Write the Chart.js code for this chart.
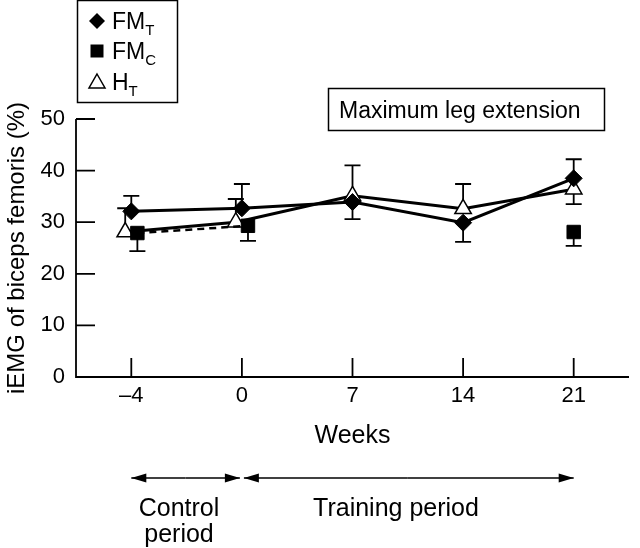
<!DOCTYPE html>
<html>
<head>
<meta charset="utf-8">
<script src="https://cdn.jsdelivr.net/npm/chart.js@4.4.1/dist/chart.umd.min.js"></script>
<style>
  html, body { margin: 0; padding: 0; background: #fff; }
  #wrap { width: 640px; height: 548px; }
</style>
</head>
<body>
<div id="wrap"><canvas id="chart" width="640" height="548"></canvas></div>
<script>
// Weeks (categories, equally spaced on the axis)
const weeks = ['\u20134', '0', '7', '14', '21'];
const yTicks = [0, 10, 20, 30, 40, 50];

// Means (%) and the value where each error bar ends
const fmtMean = [32.1, 32.7, 33.9, 29.9, 38.5];
const fmtBar  = [35.1, 37.4, 30.6, 26.2, 42.2];
const fmcMean = [27.9, 29.3, null, null, 28.1];
const fmcBar  = [24.4, 26.4, null, null, 25.4];
const htMean  = [28.1, 30.0, 35.1, 32.6, 36.4];
const htBar   = [32.7, 34.5, 41.0, 37.4, 33.5];

const FONT = "'Liberation Sans', Arial, Helvetica, sans-serif";

/**
 * Build {x, y} points; nudge a point sideways when it would sit on top of
 * the other series' marker at the same week.
 */
function dodge(series, other, dir) {
  return series.map((v, i) => {
    const o = other[i];
    const near = v != null && o != null && Math.abs(v - o) < 2;
    return { x: i + (near ? dir * 0.055 : 0), y: v };
  });
}

// Error bars: vertical stem from the mean to the end value, with a cap
const errorBars = {
  id: 'errorBars',
  beforeDatasetsDraw(chart) {
    const { ctx, scales: { y } } = chart;
    ctx.save();
    ctx.strokeStyle = '#000';
    ctx.lineWidth = 1.8;
    chart.data.datasets.forEach((ds, di) => {
      const meta = chart.getDatasetMeta(di);
      ds.errEnd.forEach((end, i) => {
        const pt = meta.data[i];
        if (end == null || !pt || ds.data[i].y == null) return;
        const pe = y.getPixelForValue(end);
        ctx.beginPath();
        ctx.moveTo(pt.x, pt.y);
        ctx.lineTo(pt.x, pe);
        ctx.moveTo(pt.x - 8, pe);
        ctx.lineTo(pt.x + 8, pe);
        ctx.stroke();
      });
    });
    ctx.restore();
  }
};

// Axis lines with inward ticks, legend, note box and period arrows
const decorations = {
  id: 'decorations',
  beforeDatasetsDraw(chart) {
    const { ctx, chartArea: a, scales: { x, y } } = chart;
    ctx.save();
    ctx.strokeStyle = '#000';
    ctx.lineWidth = 1.8;
    ctx.beginPath();
    ctx.moveTo(a.left, a.top);
    ctx.lineTo(a.left, a.bottom);
    ctx.lineTo(a.right, a.bottom);
    yTicks.forEach(t => {
      const py = y.getPixelForValue(t);
      ctx.moveTo(a.left, py);
      ctx.lineTo(a.left + 19, py);
    });
    weeks.forEach((w, i) => {
      const px = x.getPixelForValue(i);
      ctx.moveTo(px, a.bottom);
      ctx.lineTo(px, a.bottom - 19);
    });
    ctx.stroke();
    ctx.restore();
  },
  afterDraw(chart) {
    const { ctx, scales: { x } } = chart;
    ctx.save();
    ctx.fillStyle = '#000';
    ctx.strokeStyle = '#000';

    // legend box
    ctx.lineWidth = 1.5;
    ctx.strokeRect(77.5, 0.5, 100, 102);
    const items = [
      { style: 'diamond', main: 'FM', sub: 'T', y: 21 },
      { style: 'square', main: 'FM', sub: 'C', y: 51 },
      { style: 'triangle', main: 'H', sub: 'T', y: 82 }
    ];
    items.forEach(it => {
      const cx = 97;
      ctx.beginPath();
      if (it.style === 'diamond') {
        ctx.moveTo(cx, it.y - 8); ctx.lineTo(cx + 8, it.y);
        ctx.lineTo(cx, it.y + 8); ctx.lineTo(cx - 8, it.y);
        ctx.closePath(); ctx.fill();
      } else if (it.style === 'square') {
        ctx.rect(cx - 6.5, it.y - 6.5, 13, 13); ctx.fill();
      } else {
        ctx.moveTo(cx, it.y - 8); ctx.lineTo(cx + 8, it.y + 6);
        ctx.lineTo(cx - 8, it.y + 6); ctx.closePath();
        ctx.fillStyle = '#fff'; ctx.fill();
        ctx.fillStyle = '#000'; ctx.stroke();
      }
      ctx.textBaseline = 'alphabetic';
      ctx.textAlign = 'left';
      ctx.font = '23px ' + FONT;
      ctx.fillText(it.main, 112, it.y + 8);
      const w = ctx.measureText(it.main).width;
      ctx.font = '15px ' + FONT;
      ctx.fillText(it.sub, 112 + w, it.y + 14);
    });

    // note box
    ctx.lineWidth = 1.5;
    ctx.strokeRect(328.5, 88.5, 276, 42);
    ctx.font = '23px ' + FONT;
    ctx.fillText('Maximum leg extension', 339, 118);

    // period arrows
    const ay = 478;
    const x0 = x.getPixelForValue(0), x1 = x.getPixelForValue(1), x4 = x.getPixelForValue(4);
    const arrow = (from, to) => {
      const dir = Math.sign(to - from);
      ctx.beginPath();
      ctx.moveTo(from, ay);
      ctx.lineTo(to, ay);
      ctx.lineWidth = 1.5;
      ctx.stroke();
      ctx.beginPath();
      ctx.moveTo(to, ay);
      ctx.lineTo(to - dir * 15, ay - 4.5);
      ctx.lineTo(to - dir * 15, ay + 4.5);
      ctx.closePath();
      ctx.fill();
    };
    const mid1 = (x0 + x1) / 2 - 1;
    arrow(mid1, x0); arrow(mid1, x1 - 2);
    const mid2 = (x1 + x4) / 2;
    arrow(mid2, x1 + 2); arrow(mid2, x4);

    ctx.font = '25px ' + FONT;
    ctx.textAlign = 'center';
    ctx.fillText('Control', 179, 516);
    ctx.fillText('period', 179, 542);
    ctx.fillText('Training period', 396, 516);
    ctx.restore();
  }
};

new Chart(document.getElementById('chart'), {
  type: 'line',
  data: {
    datasets: [
      {
        label: 'FMT',
        data: dodge(fmtMean, [], 0),
        errEnd: fmtBar,
        borderColor: '#000',
        borderWidth: 3,
        pointStyle: 'rectRot',
        pointRadius: 8.5,
        pointBackgroundColor: '#000',
        pointBorderColor: '#000',
        pointBorderWidth: 1
      },
      {
        label: 'FMC',
        data: dodge(fmcMean, htMean, 1),
        errEnd: fmcBar,
        borderColor: '#000',
        borderWidth: 2.5,
        borderDash: [7, 5],
        spanGaps: false,
        pointStyle: 'rect',
        pointRadius: 9.5,
        pointBackgroundColor: '#000',
        pointBorderColor: '#000',
        pointBorderWidth: 1
      },
      {
        label: 'HT',
        data: dodge(htMean, fmcMean, -1),
        errEnd: htBar,
        borderColor: '#000',
        borderWidth: 3,
        pointStyle: 'triangle',
        pointRadius: 9.5,
        pointBackgroundColor: '#fff',
        pointBorderColor: '#000',
        pointBorderWidth: 1.5
      }
    ]
  },
  options: {
    responsive: false,
    animation: false,
    layout: { padding: { top: 119, right: 9, left: 0, bottom: 0 } },
    plugins: {
      legend: { display: false },
      tooltip: { enabled: false }
    },
    scales: {
      x: {
        type: 'linear',
        min: -0.5,
        max: 4.5,
        afterFit(scale) { scale.height = 171; },
        afterBuildTicks(scale) { scale.ticks = weeks.map((w, i) => ({ value: i })); },
        grid: { display: false, drawTicks: false },
        border: { display: false },
        ticks: {
          autoSkip: false,
          maxRotation: 0,
          padding: 6,
          color: '#000',
          font: { family: FONT, size: 22 },
          callback: v => weeks[v] ?? ''
        },
        title: {
          display: true,
          text: 'Weeks',
          color: '#000',
          font: { family: FONT, size: 25 },
          padding: { top: 0, bottom: 97 }
        }
      },
      y: {
        min: 0,
        max: 50,
        afterFit(scale) { scale.width = 76; },
        grid: { display: false, drawTicks: false },
        border: { display: false },
        ticks: {
          stepSize: 10,
          padding: 11,
          color: '#000',
          font: { family: FONT, size: 22 }
        },
        title: {
          display: true,
          text: 'iEMG of biceps femoris (%)',
          color: '#000',
          font: { family: FONT, size: 24 },
          padding: { top: 3, bottom: 0 }
        }
      }
    }
  },
  plugins: [errorBars, decorations]
});
</script>
</body>
</html>
